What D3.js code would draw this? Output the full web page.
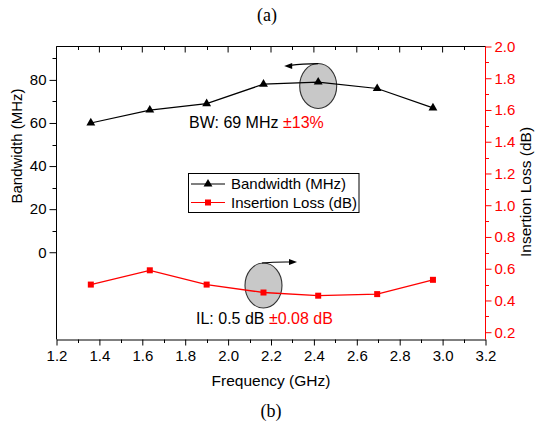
<!DOCTYPE html>
<html>
<head>
<meta charset="utf-8">
<script src="https://cdn.jsdelivr.net/npm/d3@7"></script>
<style>
  html, body { margin: 0; padding: 0; background: #fff; }
  svg { display: block; }
  text { font-family: "Liberation Sans", Arial, sans-serif; }
  text.serif { font-family: "Liberation Serif", "Times New Roman", serif; }
</style>
</head>
<body>
<svg id="chart" width="535" height="422"></svg>
<script>
// Measured frequency points (GHz)
const frequency = [1.36, 1.635, 1.90, 2.165, 2.42, 2.695, 2.955];
// 3-dB bandwidth per point (MHz)
const bandwidth = [60, 66, 69, 78, 79, 76, 67];
// Insertion loss per point (dB)
const insertionLoss = [0.50, 0.59, 0.50, 0.45, 0.43, 0.44, 0.53];

const xTicks = [1.2, 1.4, 1.6, 1.8, 2.0, 2.2, 2.4, 2.6, 2.8, 3.0, 3.2];
const leftTicks = [0, 20, 40, 60, 80];
const rightTicks = [0.2, 0.4, 0.6, 0.8, 1.0, 1.2, 1.4, 1.6, 1.8, 2.0];

const RED = "#ff0000";
const svg = d3.select("#chart");

const L = 56.5, R = 485.5, T = 46.5, B = 339.5;

const x = d3.scaleLinear().domain([1.2, 3.2]).range([L, R]);
const yL = d3.scaleLinear().domain([-40.5, 95.5]).range([B, T]);
const yR = d3.scaleLinear().domain([0.154, 2.0]).range([B, T]);

// Bottom axis (outward ticks)
const xAxis = d3.axisBottom(x).tickValues(xTicks).tickFormat(d3.format(".1f")).tickSize(6).tickSizeOuter(0).tickPadding(5);
const gx = svg.append("g").attr("transform", `translate(0,${B})`).call(xAxis);
gx.selectAll("text").attr("font-size", 15).attr("fill", "#000");
gx.selectAll("line, path").attr("stroke", "#000");
gx.selectAll(".tick text").attr("dy", "0.71em");
// minor ticks
const xMinor = d3.range(1.3, 3.2, 0.2);
svg.append("g").selectAll("line").data(xMinor).join("line")
  .attr("x1", d => Math.round(x(d)) + 0.5).attr("x2", d => Math.round(x(d)) + 0.5)
  .attr("y1", B).attr("y2", B + 3.5).attr("stroke", "#000");

// Top frame with inward ticks
svg.append("line").attr("x1", L).attr("x2", R).attr("y1", T).attr("y2", T).attr("stroke", "#000");
svg.append("g").selectAll("line").data(xTicks).join("line")
  .attr("x1", d => x(d)).attr("x2", d => x(d))
  .attr("y1", T).attr("y2", T + 6).attr("stroke", "#000");
svg.append("g").selectAll("line").data(xMinor).join("line")
  .attr("x1", d => Math.round(x(d)) + 0.5).attr("x2", d => Math.round(x(d)) + 0.5)
  .attr("y1", T).attr("y2", T + 3.5).attr("stroke", "#000");

// Left axis
svg.append("line").attr("x1", L).attr("x2", L).attr("y1", T).attr("y2", B).attr("stroke", "#000");
const yLAxis = d3.axisLeft(yL).tickValues(leftTicks).tickSize(7).tickSizeOuter(0).tickPadding(3);
const gl = svg.append("g").attr("transform", `translate(${L},0)`).call(yLAxis);
gl.select(".domain").remove();
gl.selectAll("text").attr("font-size", 15).attr("fill", "#000");
gl.selectAll("line").attr("stroke", "#000");
const leftMinor = d3.range(10, 91, 20);
svg.append("g").selectAll("line").data(leftMinor).join("line")
  .attr("x1", L - 4).attr("x2", L)
  .attr("y1", d => Math.round(yL(d)) + 0.5).attr("y2", d => Math.round(yL(d)) + 0.5).attr("stroke", "#000");

// Right axis (red)
const yRAxis = d3.axisRight(yR).tickValues(rightTicks).tickFormat(d3.format(".1f")).tickSize(6).tickSizeOuter(0).tickPadding(3);
const gr = svg.append("g").attr("transform", `translate(${R},0)`).call(yRAxis);
gr.select(".domain").remove();
gr.selectAll("text").attr("font-size", 15).attr("fill", RED);
gr.selectAll("line").attr("stroke", RED);
svg.append("line").attr("x1", R).attr("x2", R).attr("y1", T).attr("y2", B).attr("stroke", RED);
const rightMinor = d3.range(0.3, 2.0, 0.2);
svg.append("g").selectAll("line").data(rightMinor).join("line")
  .attr("x1", R).attr("x2", R + 3.5)
  .attr("y1", d => Math.round(yR(d)) + 0.5).attr("y2", d => Math.round(yR(d)) + 0.5).attr("stroke", RED);

// Axis titles
svg.append("text").attr("x", (L + R) / 2).attr("y", 386).attr("text-anchor", "middle")
  .attr("font-size", 15.5).text("Frequency (GHz)");
svg.append("text").attr("transform", "translate(22,146) rotate(-90)").attr("text-anchor", "middle")
  .attr("font-size", 15).text("Bandwidth (MHz)");
svg.append("text").attr("transform", "translate(531,192) rotate(-90)").attr("text-anchor", "middle")
  .attr("font-size", 15.5).text("Insertion Loss (dB)");

// Panel labels
svg.append("text").attr("class", "serif").attr("x", 267).attr("y", 21).attr("text-anchor", "middle")
  .attr("font-size", 18).text("(a)");
svg.append("text").attr("class", "serif").attr("x", 271).attr("y", 417).attr("text-anchor", "middle")
  .attr("font-size", 18).text("(b)");

const bwData = frequency.map((f, i) => ({ f, v: bandwidth[i] }));
const ilData = frequency.map((f, i) => ({ f, v: insertionLoss[i] }));

// Annotation ellipses (drawn beneath the curves)
const bwPeak = bwData[4], ilMin = ilData[3];
svg.append("ellipse").attr("cx", x(bwPeak.f)).attr("cy", yL(bwPeak.v) + 4)
  .attr("rx", 18.5).attr("ry", 22.5).attr("fill", "#c8c8c8").attr("stroke", "#333").attr("stroke-width", 1.1);
svg.append("ellipse").attr("cx", x(ilMin.f)).attr("cy", yR(ilMin.v) - 7)
  .attr("rx", 18.5).attr("ry", 22.5).attr("fill", "#c8c8c8").attr("stroke", "#333").attr("stroke-width", 1.1);

// Curves
const line = (yS) => d3.line().x(d => x(d.f)).y(d => yS(d.v));
svg.append("path").datum(bwData).attr("d", line(yL)).attr("fill", "none").attr("stroke", "#000").attr("stroke-width", 1.2);
svg.append("path").datum(ilData).attr("d", line(yR)).attr("fill", "none").attr("stroke", RED).attr("stroke-width", 1.3);

const tri = d3.symbol().type(d3.symbolTriangle).size(34);
svg.append("g").selectAll("path").data(bwData).join("path")
  .attr("d", tri).attr("transform", d => `translate(${x(d.f)},${yL(d.v)})`).attr("fill", "#000");
svg.append("g").selectAll("rect").data(ilData).join("rect")
  .attr("x", d => x(d.f) - 3).attr("y", d => yR(d.v) - 3).attr("width", 6).attr("height", 6).attr("fill", RED);

// Arrows pointing to the relevant axis
function arrow(pathD, tip, dir) {
  svg.append("path").attr("d", pathD).attr("fill", "none").attr("stroke", "#000").attr("stroke-width", 1.2);
  const [tx, ty] = tip;
  const s = dir;  // -1 pointing left, +1 pointing right
  svg.append("path").attr("d", `M${tx},${ty} L${tx - s * 8},${ty - 3} L${tx - s * 8},${ty + 3} Z`).attr("fill", "#000");
}
const a1x = x(bwPeak.f), a1y = yL(bwPeak.v) + 4 - 22.5;
arrow(`M${a1x},${a1y} Q${a1x - 16},${a1y} ${a1x - 28},${a1y + 1.8}`, [a1x - 34, a1y + 2.4], -1);
const a2x = x(ilMin.f) - 1.5, a2y = yR(ilMin.v) - 7 - 22.5;
arrow(`M${a2x},${a2y} Q${a2x + 12},${a2y - 1.2} ${a2x + 28},${a2y - 1}`, [a2x + 35, a2y - 1], 1);

// Summary labels
const t1 = svg.append("text").attr("x", 189).attr("y", 128).attr("font-size", 16);
t1.append("tspan").attr("fill", "#000").text("BW: 69 MHz ");
t1.append("tspan").attr("fill", RED).text("±13%");
const t2 = svg.append("text").attr("x", 196).attr("y", 324).attr("font-size", 16);
t2.append("tspan").attr("fill", "#000").text("IL: 0.5 dB ");
t2.append("tspan").attr("fill", RED).text("±0.08 dB");

// Legend
const lg = svg.append("g");
lg.append("rect").attr("x", 188.5).attr("y", 173.5).attr("width", 170.5).attr("height", 39)
  .attr("fill", "#fff").attr("stroke", "#000").attr("stroke-width", 1);
const legendItems = [
  { label: "Bandwidth (MHz)", color: "#000", marker: "tri" },
  { label: "Insertion Loss (dB)", color: RED, marker: "sq" }
];
legendItems.forEach((d, i) => {
  const yy = 184 + i * 18.5;
  lg.append("line").attr("x1", 191).attr("x2", 225).attr("y1", yy).attr("y2", yy).attr("stroke", d.color).attr("stroke-width", 1.2);
  if (d.marker === "tri") {
    lg.append("path").attr("d", tri).attr("transform", `translate(208,${yy})`).attr("fill", d.color);
  } else {
    lg.append("rect").attr("x", 205).attr("y", yy - 3).attr("width", 6).attr("height", 6).attr("fill", d.color);
  }
  lg.append("text").attr("x", 231).attr("y", yy).attr("dy", "0.35em").attr("font-size", 15).text(d.label);
});
</script>
</body>
</html>
